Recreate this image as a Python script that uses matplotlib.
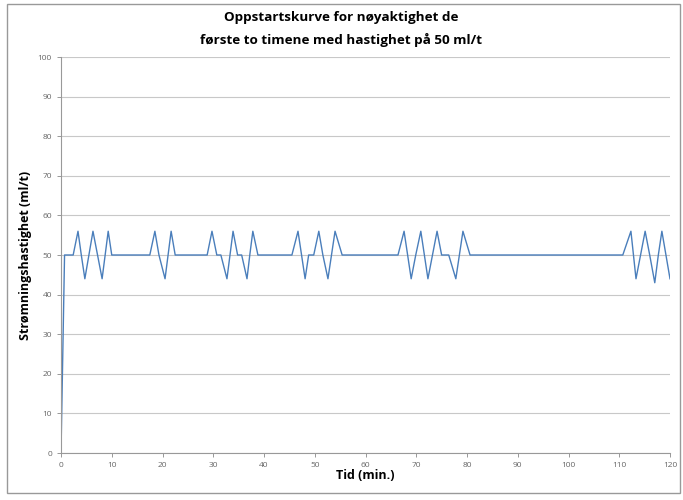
import matplotlib.pyplot as plt
from matplotlib.patches import Rectangle

plt.rcParams['font.family'] = ['Open Sans', 'DejaVu Sans']

# time (min) and flow rate (ml/t)
tid = [0, 0.7, 2.4, 3.35, 4.0, 4.7, 5.5, 6.3, 7.2, 8.1, 8.7, 9.3, 10.0, 10.6,
       17.5, 18.5, 19.3, 20.5, 21.1, 21.7, 22.5,
       28.8, 29.75, 30.7, 31.5, 32.7, 33.3, 33.9, 34.8, 35.6, 36.65, 37.2, 37.8, 38.8,
       45.5, 46.7, 47.4, 48.1, 48.8, 49.8, 50.8, 51.6, 52.6, 53.3, 54.0, 55.4,
       66.4, 67.6, 68.3, 69.0, 69.9, 70.9, 71.6, 72.3, 73.2, 74.1, 75.0, 76.4, 77.8, 78.5, 79.2, 80.6,
       110.7, 112.3, 112.8, 113.3, 114.2, 115.1, 116.0, 117.0, 117.7, 118.4, 120.0]
ml_t = [0, 50, 50, 56, 50, 44, 50, 56, 50, 44, 50, 56, 50, 50,
        50, 56, 50, 44, 50, 56, 50,
        50, 56, 50, 50, 44, 50, 56, 50, 50, 44, 50, 56, 50,
        50, 56, 50, 44, 50, 50, 56, 50, 44, 50, 56, 50,
        50, 56, 50, 44, 50, 56, 50, 44, 50, 56, 50, 50, 44, 50, 56, 50,
        50, 56, 50, 44, 50, 56, 50, 43, 50, 56, 44]

x_ticks = list(range(0, 121, 10))
y_ticks = list(range(0, 101, 10))

fig = plt.figure(figsize=(6.83, 5.0), dpi=100)
ax = fig.add_axes([61 / 683, 47 / 500, 609 / 683, 396 / 500])

ax.plot(tid, ml_t, color='#4a7ebb', linewidth=1.0)

ax.set_xlim(0, 120)
ax.set_ylim(0, 100)
ax.set_xticks(x_ticks)
ax.set_yticks(y_ticks)
ax.yaxis.grid(True, color='#c8c8c8', linewidth=0.8)
ax.set_axisbelow(True)
ax.tick_params(labelsize=6, colors='#888888', length=3, width=0.6, labelcolor='#666666')
for side in ['top', 'right']:
    ax.spines[side].set_visible(False)
for side in ['left', 'bottom']:
    ax.spines[side].set_color('#999999')
    ax.spines[side].set_linewidth(0.8)

ax.set_xlabel('Tid (min.)', fontsize=9, fontweight='bold', labelpad=0)
ax.set_ylabel('Strømningshastighet (ml/t)', fontsize=9, fontweight='bold', labelpad=4)

fig.text(0.5, 1 - 18 / 500, 'Oppstartskurve for nøyaktighet de', ha='center', va='center',
         fontsize=9.7, fontweight='bold')
fig.text(0.5, 1 - 40 / 500, 'første to timene med hastighet på 50 ml/t', ha='center', va='center',
         fontsize=9.7, fontweight='bold')

# outer chart frame
fig.patches.append(Rectangle((7 / 683, 7 / 500), 673 / 683, 489 / 500, transform=fig.transFigure,
                             fill=False, edgecolor='#999999', linewidth=1.0))

fig.savefig('out.png', dpi=100)
